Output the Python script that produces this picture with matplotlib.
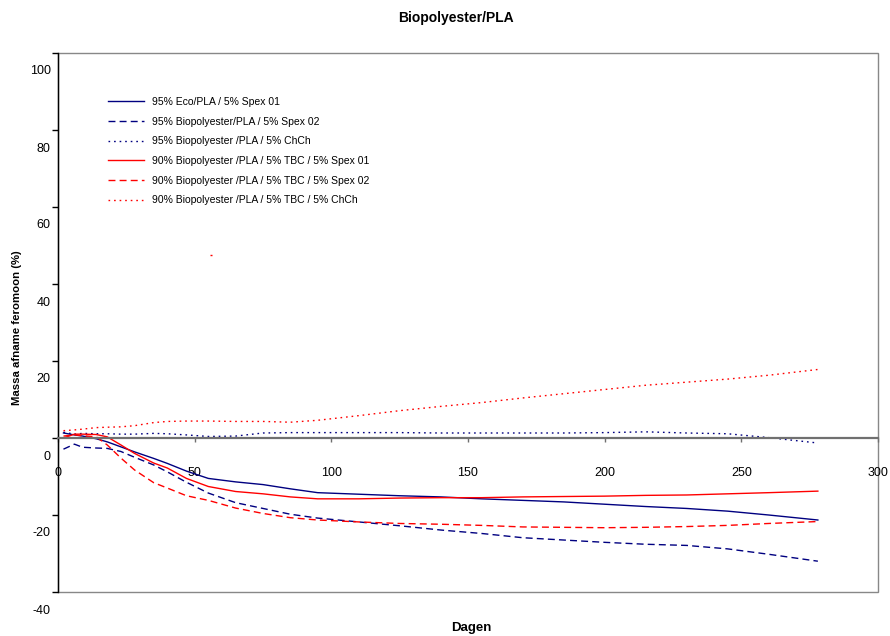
import matplotlib

matplotlib.use("Agg")
import matplotlib.pyplot as plt
from matplotlib.patches import Rectangle
from matplotlib.transforms import ScaledTranslation

plt.rcParams["font.family"] = ["Liberation Sans", "DejaVu Sans"]
plt.rcParams["axes.unicode_minus"] = False

# Days of measurement (shared by all series)
days = [2, 6, 9, 14, 18, 23, 28, 35, 40, 47, 55, 65, 75, 85, 95, 110, 125,
        140, 155, 170, 185, 200, 215, 230, 245, 260, 278]

# Mass decrease of pheromone (%) per formulation
eco_spex01 = [1.3, 0.8, 0.5, -0.2, -1.0, -2.3, -3.6, -5.3, -6.6, -8.6, -10.5,
              -11.4, -12.1, -13.2, -14.2, -14.6, -15.0, -15.3, -15.8, -16.2,
              -16.6, -17.2, -17.8, -18.3, -19.0, -20.0, -21.3]
bio_spex02 = [-2.9, -1.6, -2.4, -2.6, -2.7, -3.5, -5.0, -7.0, -8.8, -11.5,
              -14.3, -16.8, -18.3, -19.8, -20.8, -21.8, -22.8, -23.9, -24.8,
              -25.9, -26.5, -27.1, -27.6, -27.9, -28.8, -30.2, -32.0]
bio_chch = [1.5, 1.0, 1.2, 1.1, 1.1, 1.0, 1.0, 1.2, 1.1, 0.8, 0.4, 0.5, 1.3,
            1.4, 1.4, 1.4, 1.4, 1.3, 1.3, 1.3, 1.3, 1.4, 1.6, 1.3, 1.1, 0.1,
            -1.3]
tbc_spex01 = [0.0, 1.0, 1.0, 0.9, 0.3, -1.8, -4.0, -6.5, -7.8, -10.5, -12.6,
              -13.9, -14.5, -15.3, -15.8, -15.8, -15.6, -15.5, -15.5, -15.3,
              -15.2, -15.1, -14.9, -14.8, -14.5, -14.2, -13.8]
tbc_spex02 = [0.5, 0.8, 0.6, 0.3, -1.8, -5.2, -8.3, -11.6, -13.0, -15.0,
              -16.2, -18.2, -19.6, -20.7, -21.3, -21.8, -22.2, -22.4, -22.7,
              -23.1, -23.2, -23.3, -23.2, -23.0, -22.7, -22.2, -21.7]
tbc_chch = [1.9, 2.1, 2.3, 2.7, 2.8, 2.9, 3.2, 4.0, 4.3, 4.4, 4.4, 4.3, 4.3,
            4.1, 4.6, 5.8, 7.1, 8.2, 9.2, 10.4, 11.5, 12.6, 13.7, 14.5, 15.3,
            16.3, 17.8]

# isolated stray point of the red dotted series
stray_day = [56]
stray_val = [47.5]

labels = [
    "95% Eco/PLA / 5% Spex 01",
    "95% Biopolyester/PLA / 5% Spex 02",
    "95% Biopolyester /PLA / 5% ChCh",
    "90% Biopolyester /PLA / 5% TBC / 5% Spex 01",
    "90% Biopolyester /PLA / 5% TBC / 5% Spex 02",
    "90% Biopolyester /PLA / 5% TBC / 5% ChCh",
]
y_ticks = [-40, -20, 0, 20, 40, 60, 80, 100]
x_ticks = [0, 50, 100, 150, 200, 250, 300]

NAVY = "#000080"
RED = "#ff0000"
DASH = (0, (5, 3))
DOT = (0, (1.2, 2.8))

fig = plt.figure(figsize=(8.9, 6.36), dpi=100)
ax = fig.add_axes([58 / 890, 44 / 636, 820 / 890, 539 / 636])

series = [eco_spex01, bio_spex02, bio_chch, tbc_spex01, tbc_spex02, tbc_chch]
colors = [NAVY, NAVY, NAVY, RED, RED, RED]
styles = ["-", DASH, DOT, "-", DASH, DOT]
for vals, col, ls, lab in zip(series, colors, styles, labels):
    ax.plot(days, vals, color=col, linestyle=ls, lw=1.0, label=lab)
ax.plot(stray_day, stray_val, linestyle="none", marker="_", color=RED,
        markersize=2, markeredgewidth=1)

ax.set_xlim(0, 300)
ax.set_ylim(-40, 100)
ax.set_xticks(x_ticks)
ax.set_yticks(y_ticks)

# frame of the plot area
for s in ("top", "right"):
    ax.spines[s].set_visible(False)
ax.add_patch(Rectangle((0, 0), 1, 1, transform=ax.transAxes, fill=False,
                       edgecolor="#888888", lw=1.0, clip_on=False, zorder=0))
ax.spines["left"].set_color("black")
ax.spines["left"].set_linewidth(1.0)
ax.spines["bottom"].set_position(("data", 0))
ax.spines["bottom"].set_color("#707070")
ax.spines["bottom"].set_linewidth(1.6)

ax.tick_params(axis="y", direction="out", length=4.5, width=1.0,
               color="black", labelsize=9, pad=0.8)
ax.tick_params(axis="x", direction="out", length=3, width=1.0,
               color="#707070", labelsize=9, pad=18)

# the value labels sit a bit below their tick marks
shift = ScaledTranslation(0, -17 / 100, fig.dpi_scale_trans)
for tick in ax.yaxis.get_major_ticks():
    tick.label1.set_transform(tick.label1.get_transform() + shift)

fig.text(456 / 890, 1 - 18 / 636, "Biopolyester/PLA", ha="center",
         va="center", fontsize=10, fontweight="bold")
fig.text(17 / 890, 1 - 328 / 636, "Massa afname feromoon (%)", rotation=90,
         ha="center", va="center", fontsize=8.2, fontweight="bold")
fig.text(471 / 890, 1 - 628 / 636, "Dagen", ha="center", va="center",
         fontsize=9.5, fontweight="bold")

ax.legend(loc="upper left", bbox_to_anchor=(108 / 890, 1 - 97 / 636),
          bbox_transform=fig.transFigure, frameon=False, fontsize=7.5,
          handlelength=3.5, handletextpad=0.7, labelspacing=0.93,
          borderpad=0, borderaxespad=0)

fig.savefig("out.png", dpi=100)
